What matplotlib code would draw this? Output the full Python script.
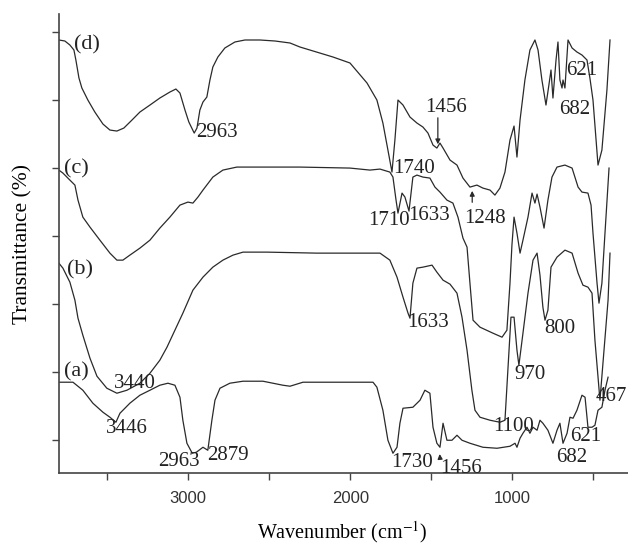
import matplotlib
matplotlib.use("Agg")
import matplotlib.pyplot as plt

# ---- data (wavenumber in cm-1, transmittance in arbitrary offset units) ----
d_wn = [3798, 3761, 3730, 3705, 3693, 3674, 3656, 3619, 3576, 3526, 3483, 3440, 3397, 3347, 3298, 3236,
        3175, 3113, 3076, 3051, 3020, 2996, 2963, 2946, 2928, 2909, 2885, 2866, 2848, 2817, 2774, 2712,
        2650, 2558, 2465, 2372, 2311, 2107, 2002, 1897, 1836, 1799, 1768, 1743, 1725, 1706, 1675, 1632,
        1589, 1552, 1521, 1490, 1466, 1447, 1428, 1385, 1342, 1305, 1262, 1219, 1182, 1138, 1108, 1077,
        1046, 1015, 990, 972, 953, 923, 892, 861, 842, 818, 793, 775, 762, 750, 731, 719, 707, 694, 688,
        676, 657, 632, 602, 571, 540, 522, 503, 472, 448, 417, 398]
d_t = [433, 432, 428, 423, 413, 395, 385, 373, 361, 349, 343, 342, 345, 353, 361, 368,
       375, 381, 384, 380, 363, 351, 340, 345, 363, 371, 376, 393, 406, 416, 425, 431,
       433, 433, 432, 430, 426, 416, 410, 390, 373, 350, 323, 301, 333, 373, 368, 356,
       350, 346, 340, 328, 325, 330, 325, 313, 308, 295, 286, 288, 285, 283, 278, 285,
       301, 333, 347, 316, 353, 393, 423, 433, 423, 393, 368, 388, 403, 375, 413, 431, 393, 385, 393,
       385, 433, 425, 421, 418, 413, 395, 373, 308, 323, 383, 433]

c_wn = [3798, 3773, 3730, 3699, 3680, 3650, 3606, 3545, 3483, 3440, 3403, 3360, 3298, 3236, 3175, 3113,
        3051, 3002, 2971, 2940, 2909, 2848, 2786, 2700, 2558, 2311, 2002, 1879, 1817, 1756, 1737, 1718,
        1706, 1681, 1663, 1638, 1614, 1589, 1552, 1509, 1478, 1447, 1404, 1367, 1336, 1305, 1280, 1262,
        1243, 1200, 1120, 1064, 1034, 1015, 1003, 990, 972, 953, 935, 904, 879, 861, 848, 830, 805, 781,
        756, 725, 676, 632, 595, 571, 534, 515, 503, 478, 466, 448, 429, 404]
c_t = [303, 300, 293, 288, 273, 256, 246, 233, 220, 213, 213, 218, 225, 233, 245, 256,
       268, 271, 270, 276, 283, 296, 303, 306, 306, 306, 305, 303, 304, 301, 296, 273,
       260, 280, 276, 262, 296, 298, 296, 295, 286, 281, 273, 270, 256, 235, 226, 190,
       153, 146, 140, 136, 143, 190, 228, 256, 240, 220, 233, 256, 280, 270, 279, 266, 245, 273,
       296, 306, 308, 305, 286, 281, 280, 268, 240, 190, 170, 190, 240, 305]

b_wn = [3798, 3773, 3730, 3699, 3680, 3650, 3606, 3563, 3502, 3440, 3378, 3298, 3236, 3175, 3131, 3082,
        3033, 2971, 2909, 2848, 2786, 2724, 2662, 2514, 2206, 1897, 1817, 1756, 1712, 1675, 1644, 1632,
        1614, 1589, 1552, 1496, 1466, 1428, 1385, 1342, 1311, 1280, 1250, 1231, 1200, 1138, 1077, 1046,
        1027, 1009, 990, 972, 960, 935, 904, 873, 848, 830, 812, 799, 781, 762, 725, 676, 632, 595,
        565, 534, 509, 491, 460, 435, 410, 398]
b_t = [210, 205, 191, 173, 155, 138, 115, 97, 85, 80, 83, 90, 100, 113, 126, 143,
       160, 183, 196, 206, 213, 218, 221, 221, 220, 220, 220, 213, 196, 176, 160, 155,
       190, 205, 206, 208, 201, 193, 189, 180, 156, 123, 83, 63, 56, 53, 51, 53,
       106, 156, 156, 123, 108, 140, 180, 213, 220, 198, 166, 153, 163, 206, 216, 223, 220, 200,
       188, 186, 180, 133, 73, 123, 173, 220]

a_wn = [3800, 3711, 3650, 3588, 3526, 3483, 3446, 3421, 3360, 3298, 3236, 3175, 3125, 3082, 3051, 3033,
        3008, 2975, 2950, 2909, 2879, 2854, 2835, 2804, 2743, 2662, 2539, 2416, 2372, 2292, 2107, 1860,
        1836, 1799, 1768, 1737, 1712, 1694, 1675, 1614, 1570, 1540, 1509, 1490, 1466, 1447, 1428, 1404,
        1373, 1342, 1311, 1262, 1182, 1095, 1015, 984, 972, 953, 935, 910, 892, 873, 848, 830, 812,
        781, 750, 725, 707, 688, 663, 645, 626, 602, 571, 552, 534, 509, 491, 472, 448, 429, 410]
a_t = [91, 91, 83, 70, 61, 56, 51, 60, 70, 78, 83, 88, 90, 88, 76, 53,
       30, 20, 21, 26, 23, 53, 73, 85, 90, 92, 92, 88, 87, 91, 91, 91,
       86, 63, 33, 20, 26, 50, 65, 66, 73, 83, 80, 46, 30, 26, 50, 33,
       33, 38, 33, 30, 26, 25, 27, 30, 26, 35, 40, 46, 40, 46, 43, 53, 50,
       43, 30, 43, 50, 30, 40, 56, 55, 63, 78, 76, 46, 46, 48, 63, 66, 83, 96]

x_major = [3000, 2000, 1000]
x_minor = [3500, 2500, 1500, 500]

# peak annotations: (text, wavenumber, transmittance)
annotations = [
    ("(d)", 3625, 428), ("(c)", 3687, 304), ("(b)", 3668, 203), ("(a)", 3687, 101),
    ("2963", 2823, 341), ("1456", 1410, 366), ("621", 571, 403), ("682", 614, 364),
    ("1740", 1607, 305), ("1710", 1762, 253), ("1633", 1515, 258), ("1248", 1169, 255),
    ("1633", 1521, 151), ("800", 707, 145), ("970", 892, 99), ("1100", 990, 47),
    ("467", 388, 77), ("621", 546, 37), ("682", 632, 16), ("1730", 1620, 11),
    ("1456", 1317, 5), ("3440", 3329, 90), ("3446", 3378, 45), ("2963", 3057, 12),
    ("2879", 2755, 18),
]
arrows = [((1460, 358), (1460, 326)), ((1248, 268), (1248, 285)), ((1445, 12), (1450, 22))]

plt.rcParams['mathtext.fontset'] = 'stix'
fig = plt.figure(figsize=(6.28, 5.46), dpi=100)
ax = fig.add_axes([0.0932, 0.1332, 0.9068, 0.8412])

col = '#2a2a2a'
for wn, t in [(d_wn, d_t), (c_wn, c_t), (b_wn, b_t), (a_wn, a_t)]:
    ax.plot(wn, t, color=col, lw=0.9)

ax.set_xlim(3800, 287)
ax.set_ylim(0, 459)
for s in ['top', 'right']:
    ax.spines[s].set_visible(False)
for s in ['left', 'bottom']:
    ax.spines[s].set_color('#444444')
    ax.spines[s].set_linewidth(1.2)

ax.set_xticks(x_major)
ax.set_xticks(x_minor, minor=True)
ax.set_xticklabels([str(v) for v in x_major], fontfamily='Liberation Sans', fontsize=12, color='#333333')
ax.set_yticks([33, 101, 169, 237, 305, 373, 441])
ax.set_yticklabels([])
ax.tick_params(axis='both', which='both', direction='out', length=5, width=1.0, color='#444444')
ax.tick_params(axis='x', which='major', pad=8)

ax.set_xlabel("Wavenumber (cm$^{-1}$)", fontfamily='Liberation Serif', fontsize=14.5)
ax.set_ylabel("Transmittance (%)", fontfamily='Liberation Serif', fontsize=15.5)
ax.xaxis.set_label_coords(0.498, -0.1)
ax.yaxis.set_label_coords(-0.045, 0.5)

for txt, x, y in annotations:
    fs = 16 if txt.startswith('(') else 15
    ax.text(x, y, txt, fontfamily='Liberation Serif', fontsize=fs, ha='center', va='center',
            color='#222222', clip_on=False)

for (x0, y0), (x1, y1) in arrows:
    ax.annotate('', xy=(x1, y1), xytext=(x0, y0),
                arrowprops=dict(arrowstyle='-|>', color=col, lw=0.9, mutation_scale=7))

fig.savefig('out.png', dpi=100)
